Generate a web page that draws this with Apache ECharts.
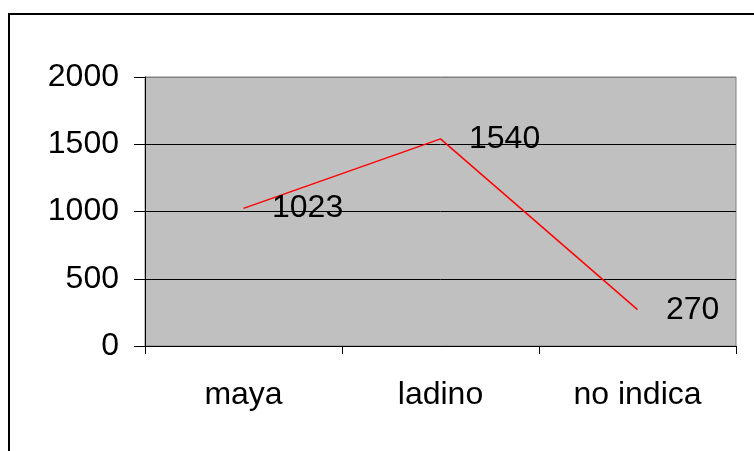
<!DOCTYPE html>
<html>
<head>
<meta charset="utf-8">
<script src="https://cdn.jsdelivr.net/npm/echarts@6/dist/echarts.min.js"></script>
<style>
  html, body { margin: 0; padding: 0; background: #fff; }
  #chart { width: 754px; height: 451px; }
</style>
</head>
<body>
<div id="chart"></div>
<script>
// Respondents by self-identified ethnicity
const categories = ['maya', 'ladino', 'no indica'];
const counts = [1023, 1540, 270];
const yTicks = [0, 500, 1000, 1500, 2000];

const FONT = 'Liberation Sans, Arial, sans-serif';
const FONT_SIZE = 32;
const chart = echarts.init(document.getElementById('chart'), null, { renderer: 'canvas' });

chart.setOption({
  animation: false,
  backgroundColor: '#ffffff',
  graphic: [{
    type: 'rect',
    shape: { x: 9, y: 14, width: 800, height: 500 },
    style: { fill: 'none', stroke: '#000', lineWidth: 2 },
    z: 100
  }],
  grid: {
    left: 145, top: 77, right: 18, bottom: 105,
    show: true,
    backgroundColor: '#C0C0C0',
    borderColor: '#808080',
    borderWidth: 1
  },
  xAxis: {
    type: 'category',
    data: categories,
    boundaryGap: true,
    axisLine: { lineStyle: { color: '#000', width: 1 } },
    axisTick: { show: true, length: 8, lineStyle: { color: '#000' } },
    axisLabel: { color: '#000', fontSize: FONT_SIZE, fontFamily: FONT, margin: 33 }
  },
  yAxis: {
    type: 'value',
    min: yTicks[0],
    max: yTicks[yTicks.length - 1],
    interval: 500,
    axisLine: { show: true, lineStyle: { color: '#000', width: 1 } },
    axisTick: { show: true, length: 11, lineStyle: { color: '#000' } },
    axisLabel: {
      color: '#000', fontSize: FONT_SIZE, fontFamily: FONT, margin: 26,
      formatter: v => String(v)
    },
    splitLine: {
      show: true,
      lineStyle: { color: ['#000', '#000', '#000', '#000', '#808080'], width: 1 }
    }
  },
  series: [{
    type: 'line',
    data: counts,
    symbol: 'circle',
    symbolSize: 1,
    showSymbol: true,
    itemStyle: { color: 'rgba(0,0,0,0)' },
    lineStyle: { color: '#FF0000', width: 1.5 },
    label: {
      show: true,
      position: 'right',
      distance: 28,
      color: '#000',
      fontSize: FONT_SIZE,
      fontFamily: FONT,
      formatter: p => String(p.value)
    },
    labelLayout: { hideOverlap: false }
  }]
});
</script>
</body>
</html>
